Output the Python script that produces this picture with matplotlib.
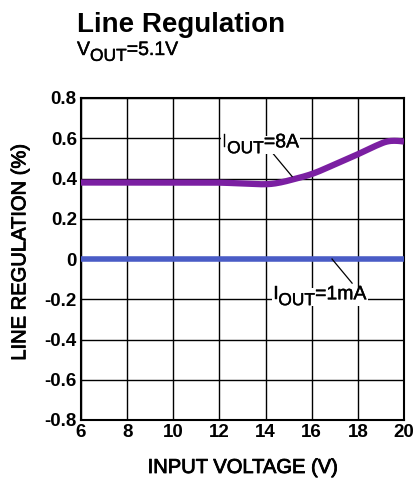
import matplotlib
matplotlib.use("Agg")
import matplotlib.pyplot as plt
import matplotlib.patheffects as pe
from matplotlib.patches import Rectangle
from matplotlib.transforms import Bbox
import numpy as np

plt.rcParams['font.family'] = ['Liberation Sans', 'DejaVu Sans']

vin_8a = [6, 8, 10, 12, 13, 14, 14.5, 15, 16, 17, 18, 19, 19.5, 20]
reg_8a = [0.38, 0.38, 0.38, 0.38, 0.375, 0.37, 0.375, 0.39, 0.42, 0.47, 0.52, 0.575, 0.595, 0.58]
vin_1ma = [6, 20]
reg_1ma = [0.0, 0.0]
xticks = [6, 8, 10, 12, 14, 16, 18, 20]
yticks = [0.8, 0.6, 0.4, 0.2, 0, -0.2, -0.4, -0.6, -0.8]
ytick_labels = ['0.8', '0.6', '0.4', '0.2', '0', '-0.2', '-0.4', '-0.6', '-0.8']

fig = plt.figure(figsize=(4.2, 4.79), dpi=100)
ax = fig.add_axes([81/420, 1-420/479, (404-81)/420, (420-98)/479])

xs = np.linspace(6, 20, 300)
ys = np.interp(xs, vin_8a, reg_8a)
k = 9
ys_s = np.convolve(np.pad(ys, k, mode='edge'), np.ones(2*k+1)/(2*k+1), mode='same')[k:-k]

ax.plot(vin_1ma, reg_1ma, color='#4a5cc6', lw=4, solid_capstyle='butt', zorder=3)
ax.plot(xs, ys_s, color='#7b1fa2', lw=4.5, solid_capstyle='butt', zorder=4)

ax.set_xlim(6, 20)
ax.set_ylim(-0.8, 0.8)
ax.set_xticks(xticks)
ax.set_yticks(yticks)
ax.set_yticklabels(ytick_labels)
ax.grid(True, color='black', lw=1)
ax.tick_params(length=0, labelsize=13.5, pad=3)
for lbl in ax.get_xticklabels() + ax.get_yticklabels():
    lbl.set_fontweight('bold')
for s in ax.spines.values():
    s.set_linewidth(1.5)

heavy = [pe.withStroke(linewidth=0.6, foreground='black')]
light = [pe.withStroke(linewidth=0.3, foreground='black')]
ax.set_xlabel('INPUT VOLTAGE (V)', fontsize=14.5, path_effects=heavy)
ax.set_ylabel('LINE REGULATION (%)', fontsize=14.5, path_effects=heavy)
ax.xaxis.set_label_coords(0.5, -0.118)
ax.yaxis.set_label_coords(-0.16, 0.52)

# annotation leader lines
ax.plot([14.28, 15.15], [0.53, 0.41], color='black', lw=0.9, zorder=5)
ax.plot([16.88, 17.75], [0.0, -0.12], color='black', lw=0.9, zorder=5)

labels = []

def label(xd, yd, rest):
    t0 = ax.text(xd, yd, 'I', fontsize=14, ha='left', va='bottom', zorder=7, path_effects=light)
    t1 = ax.annotate('OUT', xy=(1, 0), xycoords=t0, xytext=(0, -3.5), textcoords='offset points',
                     fontsize=12.5, ha='left', va='bottom', zorder=7, path_effects=light)
    t2 = ax.annotate(rest, xy=(1, 0), xycoords=t1, xytext=(0, 3.5), textcoords='offset points',
                     fontsize=14, ha='left', va='bottom', zorder=7, path_effects=light)
    labels.append((t0, t1, t2))

label(12.1, 0.535, '=8A')
label(14.32, -0.22, '=1mA')

fig.text(77/420, 1-32/479, 'Line Regulation', fontsize=20, fontweight='bold', ha='left', va='baseline')
v0 = fig.text(77/420, 1-59/479, 'V', fontsize=14, ha='left', va='bottom', path_effects=light)
v1 = fig.add_artist(matplotlib.text.Annotation('OUT', xy=(1, 0), xycoords=v0, xytext=(0, -3.5),
                    textcoords='offset points', fontsize=12.5, ha='left', va='bottom', path_effects=light))
fig.add_artist(matplotlib.text.Annotation('=5.1V', xy=(1, 0), xycoords=v1, xytext=(0, 3.5),
               textcoords='offset points', fontsize=14, ha='left', va='bottom', path_effects=light))

# white backgrounds behind annotation labels
fig.canvas.draw()
r = fig.canvas.get_renderer()
for parts in labels:
    bb = Bbox.union([p.get_window_extent(r) for p in parts])
    bb = bb.padded(1)
    inv = ax.transAxes.inverted()
    (x0, y0), (x1, y1) = inv.transform([[bb.x0, bb.y0 + 3], [bb.x1, bb.y1 - 3]])
    ax.add_patch(Rectangle((x0, y0), x1 - x0, y1 - y0, transform=ax.transAxes,
                           facecolor='white', edgecolor='none', zorder=6))

fig.savefig('out.png', dpi=100)
